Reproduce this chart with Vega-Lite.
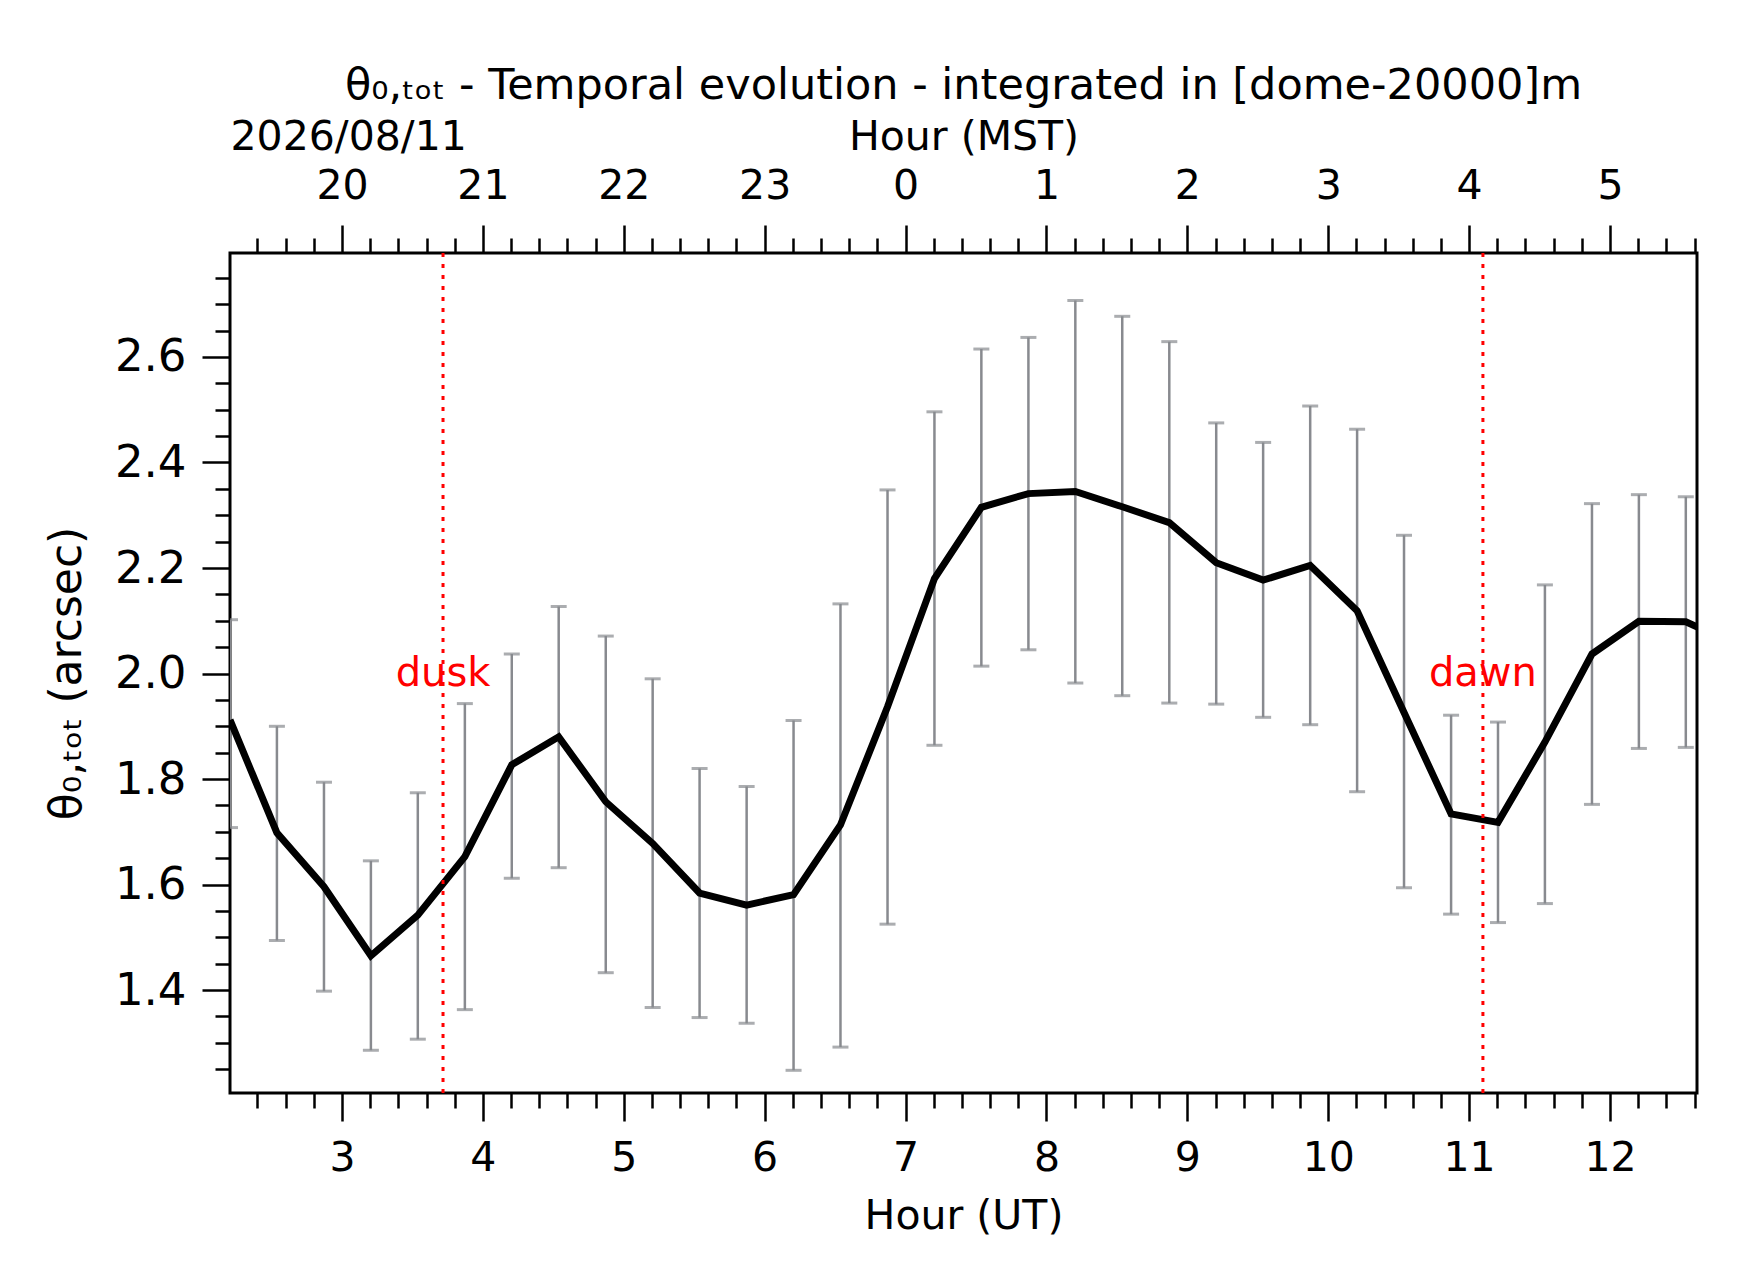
{
  "$schema": "https://vega.github.io/schema/vega-lite/v6.json",
  "width": 1467,
  "height": 840,
  "autosize": "none",
  "padding": {"left": 230, "top": 253, "right": 45, "bottom": 189},
  "background": "white",
  "title": {
    "text": "θ₀,ₜₒₜ - Temporal evolution - integrated in [dome-20000]m",
    "anchor": "middle",
    "frame": "group",
    "baseline": "alphabetic",
    "fontSize": 43,
    "fontWeight": "normal",
    "font": "DejaVu Sans",
    "color": "black",
    "offset": -26
  },
  "datasets": {
    "theta": [
      {"t": 2.205, "v": 1.912, "lo": 1.708, "hi": 2.102},
      {"t": 2.538, "v": 1.698, "lo": 1.494, "hi": 1.900},
      {"t": 2.872, "v": 1.596, "lo": 1.398, "hi": 1.794},
      {"t": 3.205, "v": 1.465, "lo": 1.286, "hi": 1.645},
      {"t": 3.538, "v": 1.542, "lo": 1.307, "hi": 1.774},
      {"t": 3.872, "v": 1.653, "lo": 1.363, "hi": 1.943},
      {"t": 4.205, "v": 1.827, "lo": 1.612, "hi": 2.037},
      {"t": 4.538, "v": 1.880, "lo": 1.632, "hi": 2.127},
      {"t": 4.872, "v": 1.757, "lo": 1.433, "hi": 2.071},
      {"t": 5.205, "v": 1.678, "lo": 1.367, "hi": 1.990},
      {"t": 5.538, "v": 1.584, "lo": 1.348, "hi": 1.820},
      {"t": 5.872, "v": 1.561, "lo": 1.337, "hi": 1.786},
      {"t": 6.205, "v": 1.581, "lo": 1.248, "hi": 1.911},
      {"t": 6.538, "v": 1.713, "lo": 1.292, "hi": 2.132},
      {"t": 6.872, "v": 1.937, "lo": 1.525, "hi": 2.348},
      {"t": 7.205, "v": 2.180, "lo": 1.864, "hi": 2.496},
      {"t": 7.538, "v": 2.315, "lo": 2.014, "hi": 2.615},
      {"t": 7.872, "v": 2.341, "lo": 2.045, "hi": 2.637},
      {"t": 8.205, "v": 2.345, "lo": 1.982, "hi": 2.707},
      {"t": 8.538, "v": 2.316, "lo": 1.958, "hi": 2.677},
      {"t": 8.872, "v": 2.286, "lo": 1.944, "hi": 2.629},
      {"t": 9.205, "v": 2.210, "lo": 1.942, "hi": 2.475},
      {"t": 9.538, "v": 2.177, "lo": 1.917, "hi": 2.438},
      {"t": 9.872, "v": 2.205, "lo": 1.903, "hi": 2.507},
      {"t": 10.205, "v": 2.119, "lo": 1.776, "hi": 2.463},
      {"t": 10.538, "v": 1.926, "lo": 1.594, "hi": 2.262},
      {"t": 10.872, "v": 1.734, "lo": 1.544, "hi": 1.921},
      {"t": 11.205, "v": 1.718, "lo": 1.528, "hi": 1.908},
      {"t": 11.538, "v": 1.870, "lo": 1.564, "hi": 2.168},
      {"t": 11.872, "v": 2.037, "lo": 1.752, "hi": 2.322},
      {"t": 12.205, "v": 2.099, "lo": 1.858, "hi": 2.339},
      {"t": 12.538, "v": 2.098, "lo": 1.860, "hi": 2.335},
      {"t": 12.872, "v": 2.058, "lo": 1.800, "hi": 2.300}
    ],
    "events": [
      {"t": 3.717, "label": "dusk"},
      {"t": 11.098, "label": "dawn"}
    ]
  },
  "resolve": {"axis": {"x": "independent", "y": "independent"}},
  "layer": [
    {
      "data": {"name": "theta"},
      "mark": {"type": "rule", "color": "#888a8f", "strokeWidth": 2.5, "clip": true},
      "encoding": {
        "x": {
          "field": "t", "type": "quantitative",
          "scale": {"domain": [2.205, 12.6175], "nice": false, "zero": false},
          "axis": {
            "orient": "bottom",
            "values": [3, 4, 5, 6, 7, 8, 9, 10, 11, 12],
            "format": "d",
            "tickSize": 28,
            "tickWidth": 2.5,
            "labelFontSize": 41,
            "labelPadding": 17,
            "labelFlush": false,
            "title": "Hour (UT)",
            "titleFontSize": 41,
            "titleBaseline": "alphabetic",
            "titleY": 135
          }
        },
        "y": {
          "field": "lo", "type": "quantitative",
          "scale": {"domain": [1.205, 2.797], "nice": false, "zero": false},
          "axis": {
            "orient": "left",
            "values": [1.4, 1.6, 1.8, 2.0, 2.2, 2.4, 2.6],
            "format": ".1f",
            "tickSize": 28,
            "tickWidth": 2.5,
            "labelFontSize": 45,
            "labelPadding": 16,
            "title": "θ₀,ₜₒₜ (arcsec)",
            "titleFontSize": 44,
            "titleAngle": -90,
            "titleBaseline": "alphabetic",
            "titleAlign": "center",
            "titleX": -150,
            "titleY": 420
          }
        },
        "y2": {"field": "hi"}
      }
    },
    {
      "data": {"name": "theta"},
      "mark": {"type": "tick", "orient": "horizontal", "color": "#888a8f", "size": 16, "thickness": 3, "clip": true},
      "encoding": {
        "x": {
          "field": "t", "type": "quantitative",
          "scale": {"domain": [2.205, 12.6175], "nice": false, "zero": false},
          "axis": {
            "orient": "bottom",
            "values": [2.4, 2.6, 2.8, 3.2, 3.4, 3.6, 3.8, 4.2, 4.4, 4.6, 4.8, 5.2, 5.4, 5.6, 5.8, 6.2, 6.4, 6.6, 6.8, 7.2, 7.4, 7.6, 7.8, 8.2, 8.4, 8.6, 8.8, 9.2, 9.4, 9.6, 9.8, 10.2, 10.4, 10.6, 10.8, 11.2, 11.4, 11.6, 11.8, 12.2, 12.4, 12.6],
            "tickSize": 15,
            "tickWidth": 2.5,
            "labels": false,
            "title": null
          }
        },
        "y": {
          "field": "hi", "type": "quantitative",
          "scale": {"domain": [1.205, 2.797], "nice": false, "zero": false},
          "axis": {
            "orient": "left",
            "values": [1.25, 1.3, 1.35, 1.45, 1.5, 1.55, 1.65, 1.7, 1.75, 1.85, 1.9, 1.95, 2.05, 2.1, 2.15, 2.25, 2.3, 2.35, 2.45, 2.5, 2.55, 2.65, 2.7, 2.75],
            "tickSize": 15,
            "tickWidth": 2.5,
            "labels": false,
            "title": null
          }
        }
      }
    },
    {
      "data": {"name": "theta"},
      "mark": {"type": "tick", "orient": "horizontal", "color": "#888a8f", "size": 16, "thickness": 3, "clip": true},
      "encoding": {
        "x": {
          "field": "t", "type": "quantitative",
          "scale": {"domain": [2.205, 12.6175], "nice": false, "zero": false},
          "axis": {
            "orient": "top",
            "values": [3, 4, 5, 6, 7, 8, 9, 10, 11, 12],
            "labelExpr": "(datum.value + 17) % 24",
            "tickSize": 28,
            "tickWidth": 2.5,
            "labelFontSize": 41,
            "labelPadding": 27,
            "labelBaseline": "alphabetic",
            "labelFlush": false,
            "title": "Hour (MST)",
            "titleFontSize": 41,
            "titleBaseline": "alphabetic",
            "titleY": -104
          }
        },
        "y": {
          "field": "lo", "type": "quantitative",
          "scale": {"domain": [1.205, 2.797], "nice": false, "zero": false},
          "axis": null
        }
      }
    },
    {
      "data": {"name": "theta"},
      "mark": {"type": "line", "color": "black", "strokeWidth": 7, "clip": true},
      "encoding": {
        "x": {
          "field": "t", "type": "quantitative",
          "scale": {"domain": [2.205, 12.6175], "nice": false, "zero": false},
          "axis": {
            "orient": "top",
            "values": [2.4, 2.6, 2.8, 3.2, 3.4, 3.6, 3.8, 4.2, 4.4, 4.6, 4.8, 5.2, 5.4, 5.6, 5.8, 6.2, 6.4, 6.6, 6.8, 7.2, 7.4, 7.6, 7.8, 8.2, 8.4, 8.6, 8.8, 9.2, 9.4, 9.6, 9.8, 10.2, 10.4, 10.6, 10.8, 11.2, 11.4, 11.6, 11.8, 12.2, 12.4, 12.6],
            "tickSize": 15,
            "tickWidth": 2.5,
            "labels": false,
            "title": "2026/08/11",
            "titleFontSize": 41,
            "titleBaseline": "alphabetic",
            "titleAlign": "left",
            "titleX": 0,
            "titleY": -104
          }
        },
        "y": {
          "field": "v", "type": "quantitative",
          "scale": {"domain": [1.205, 2.797], "nice": false, "zero": false},
          "axis": null
        }
      }
    },
    {
      "data": {"name": "events"},
      "mark": {"type": "rule", "color": "#ff0000", "strokeWidth": 3, "strokeDash": [4, 7]},
      "encoding": {
        "x": {
          "field": "t", "type": "quantitative",
          "scale": {"domain": [2.205, 12.6175], "nice": false, "zero": false},
          "axis": null
        }
      }
    },
    {
      "data": {"name": "events"},
      "mark": {"type": "text", "color": "#ff0000", "fontSize": 40, "align": "center", "baseline": "middle", "font": "DejaVu Sans"},
      "encoding": {
        "x": {
          "field": "t", "type": "quantitative",
          "scale": {"domain": [2.205, 12.6175], "nice": false, "zero": false},
          "axis": null
        },
        "y": {
          "datum": 2.0, "type": "quantitative",
          "scale": {"domain": [1.205, 2.797], "nice": false, "zero": false},
          "axis": null
        },
        "text": {"field": "label"}
      }
    }
  ],
  "config": {
    "font": "DejaVu Sans",
    "view": {"stroke": "black", "strokeWidth": 3},
    "axis": {
      "grid": false,
      "domain": false,
      "tickColor": "black",
      "labelColor": "black",
      "titleColor": "black",
      "labelFont": "DejaVu Sans",
      "titleFont": "DejaVu Sans",
      "titleFontWeight": "normal",
      "labelOverlap": false
    }
  }
}
